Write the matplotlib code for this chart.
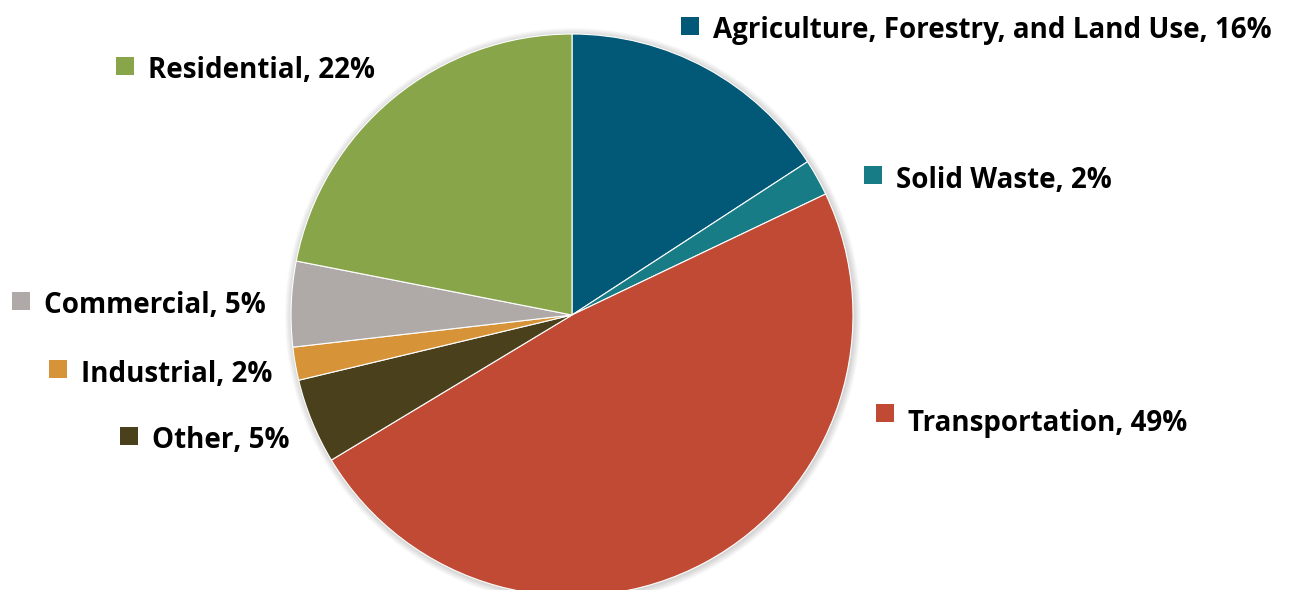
import matplotlib.pyplot as plt
from matplotlib.patches import Circle

# shares (labels show the rounded values)
categories = ["Agriculture, Forestry, and Land Use", "Solid Waste", "Transportation",
              "Other", "Industrial", "Commercial", "Residential"]
values = [15.8, 2.1, 48.4, 4.9, 1.9, 4.9, 21.9]
pct_labels = ["16%", "2%", "49%", "5%", "2%", "5%", "22%"]
colors = ["#025877", "#177C86", "#C04A33", "#4A401B", "#D69338", "#AFAAA8", "#88A54A"]

# label layout: square left edge, square centre y, text baseline y (pixels from top)
label_pos = [(681, 25.5, 38), (864, 175, 188), (876, 413, 431), (120, 435.5, 448),
             (49, 368.5, 382), (12, 300.5, 313), (116, 65.5, 78)]

W, H = 1290, 590
cx, cy, r = 572, 315, 281

fig = plt.figure(figsize=(12.9, 5.9), dpi=100)
ax = fig.add_axes([0, 0, 1, 1])

# soft shadow around the pie
for k in range(1, 8):
    ax.add_patch(Circle((cx + 1, H - cy - 1), r + k, color="black", alpha=0.025, lw=0, zorder=0))

ax.pie(values, colors=colors, startangle=90, counterclock=False,
       center=(cx, H - cy), radius=r, frame=True,
       wedgeprops=dict(edgecolor="white", linewidth=0.8))
ax.set_xlim(0, W)
ax.set_ylim(0, H)
ax.set_aspect("equal")
ax.axis("off")

for name, pct, col, (x, sy, by) in zip(categories, pct_labels, colors, label_pos):
    ax.plot(x + 8.5, H - sy, marker="s", markersize=12.3, color=col, mec=col, mew=0)
    ax.text(x + 32, H - by, f"{name}, {pct}", fontsize=20, fontweight="bold",
            family="Open Sans", va="baseline", ha="left", color="black")

fig.savefig("out.png", dpi=100)
